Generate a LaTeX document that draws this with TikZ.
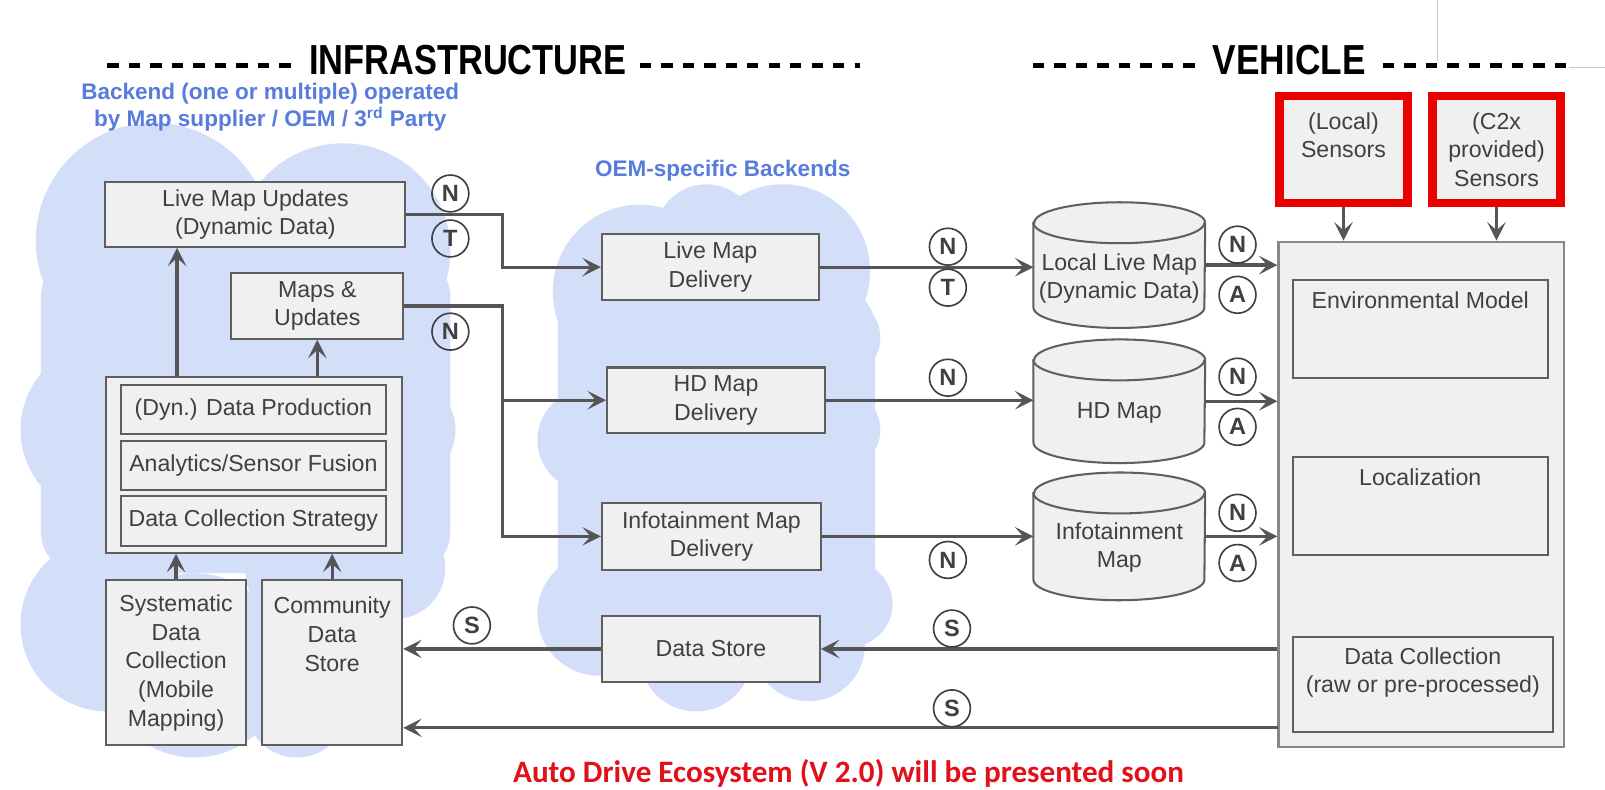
\documentclass[tikz,border=0pt]{standalone}
\usepackage{graphicx}
\usepackage{fontspec}
\setmainfont{Liberation Sans}
\newfontfamily\notefont{Carlito}
\usetikzlibrary{arrows.meta,positioning}

\definecolor{cloudblue}{RGB}{211,222,249}
\definecolor{boxfill}{RGB}{240,240,240}
\definecolor{boxline}{RGB}{95,95,95}
\definecolor{txtgrey}{RGB}{64,64,64}
\definecolor{linegrey}{RGB}{85,85,85}
\definecolor{titleblue}{RGB}{88,124,222}
\definecolor{alertred}{RGB}{226,16,24}
\definecolor{sensorred}{RGB}{235,0,0}

% cylinder body drawn round an empty node
\newcommand\dbshape[1]{%
  \path[db] ([yshift=-10pt]#1.north west) -- ([yshift=10pt]#1.south west)
    arc[start angle=180, end angle=360, x radius=41.75pt, y radius=10pt]
    -- ([yshift=-10pt]#1.north east)
    arc[start angle=0, end angle=180, x radius=41.75pt, y radius=10pt] -- cycle;
  \draw[db, fill=none] ([yshift=-10pt]#1.north west)
    arc[start angle=180, end angle=360, x radius=41.75pt, y radius=10pt];}

\begin{document}
\begin{tikzpicture}[x=0.5pt, y=-0.5pt,
  box/.style={draw=boxline, fill=boxfill, line width=1pt, inner sep=0pt, align=center,
    text=txtgrey, font=\fontsize{11.3}{14}\selectfont},
  bigbox/.style={box, draw=boxline!75},
  sensorbox/.style={box, draw=sensorred, line width=4pt},
  dbbody/.style={minimum width=83.5pt, inner sep=0pt},
  db/.style={fill=boxfill, draw=boxline, line width=1pt},
  dbtext/.style={align=center, text=txtgrey, font=\fontsize{11.3}{14}\selectfont, inner sep=0pt},
  tag/.style={circle, draw=txtgrey, line width=0.8pt, minimum size=18pt, inner sep=0pt,
    text=txtgrey, font=\fontsize{11.5}{12}\selectfont\bfseries},
  flow/.style={draw=linegrey, line width=1.6pt, -{Stealth[length=9pt, width=9pt, inset=4pt]}},
  header/.style={font=\fontsize{20.5}{22}\selectfont\bfseries, inner sep=0pt},
  hdash/.style={line width=2.5pt, dash pattern=on 5.5pt off 5pt},
  group/.style={text=titleblue, font=\fontsize{11}{13}\selectfont\bfseries, align=center, inner sep=0pt}]

  \fill[white] (0,0) rectangle (1568,771);
  \useasboundingbox (0,0) rectangle (1568,771);

  % clouds
  \foreach \cx/\cy/\r in {150/235/115, 335/245/105, 105/420/85, 105/610/85, 190/650/90,
      290/690/50, 395/420/50, 385/555/50,
      625/285/85, 765/265/85, 690/230/50, 575/430/50, 585/600/60, 680/640/55,
      790/630/55, 830/590/42, 820/420/40, 820/330/40}
    \fill[cloudblue] (\cx,\cy) circle[radius=\r];
  \fill[cloudblue, rounded corners=20pt] (40,250) rectangle (440,560);
  \fill[cloudblue, rounded corners=20pt] (240,450) rectangle (420,600);
  \fill[cloudblue, rounded corners=20pt] (545,280) rectangle (855,620);

  % headers
  \node[header] (infratitle) at (457,59) {\scalebox{0.82}[1]{INFRASTRUCTURE}};
  \draw[hdash] (105,64) -- (289,64);
  \draw[hdash] (625,64) -- (840,64);
  \node[header] (vehtitle) at (1259.5,59) {\scalebox{0.84}[1]{VEHICLE}};
  \draw[hdash] (1009,64) -- (1176,64);
  \draw[hdash] (1351,64) -- (1530,64);
  \draw[black!22, line width=0.5pt] (1404,0) -- (1404,60);
  \draw[black!22, line width=0.5pt] (1533,66) -- (1568,66);

  \node[group] (backend) at (264,105) {Backend (one or multiple) operated\\by Map supplier / OEM / 3\textsuperscript{rd} Party};
  \node[group] (oemtitle) at (706,167) {OEM-specific Backends};

  % infrastructure backend
  \node[box, minimum width=146.5pt, minimum height=31.5pt] (liveupd) at (249.5,209.5) {Live Map Updates\\(Dynamic Data)};
  \node[box, minimum width=84pt, minimum height=32pt] (mapsupd) at (310,299) {Maps \&\\Updates};
  \node[box, minimum width=144.5pt, minimum height=86pt] (prod) at (248.5,454) {};
  \node[box, minimum width=129.5pt, minimum height=24pt] (dynprod) at (247.5,400) {(Dyn.) Data Production};
  \node[box, minimum width=129.5pt, minimum height=24pt] (fusion) at (247.5,455) {Analytics/Sensor Fusion};
  \node[box, minimum width=129.5pt, minimum height=24pt] (strategy) at (247.5,509) {Data Collection Strategy};
  \node[box, minimum width=68pt, minimum height=80.5pt] (sysdc) at (172,647.5) {Systematic\\Data\\Collection\\(Mobile\\Mapping)};
  \node[box, minimum width=68.5pt, minimum height=80.5pt] (comstore) at (324.5,647.5) {Community\\Data\\Store\\\mbox{}\\\mbox{}};

  % OEM backends
  \node[box, minimum width=106pt, minimum height=32pt] (livedel) at (694,261) {Live Map\\Delivery};
  \node[box, minimum width=106.5pt, minimum height=32pt] (hddel) at (699.5,391) {HD Map\\Delivery};
  \node[box, minimum width=107pt, minimum height=32.5pt] (infodel) at (695,524) {Infotainment Map\\Delivery};
  \node[box, minimum width=106.5pt, minimum height=32pt] (store) at (694.5,634) {Data Store};

  % vehicle maps
  \node[dbbody, minimum height=61pt] (livedb) at (1093.5,259) {};
  \node[dbbody, minimum height=60pt] (hddb) at (1093.5,392) {};
  \node[dbbody, minimum height=62pt] (infodb) at (1093.5,524) {};
  \foreach \db in {livedb,hddb,infodb} {\dbshape{\db}}
  \node[dbtext] (livedbtxt) at (1093.5,272) {Local Live Map\\(Dynamic Data)};
  \node[dbtext] (hddbtxt) at (1093.5,403) {HD Map};
  \node[dbtext] (infodbtxt) at (1093.5,535) {Infotainment\\Map};

  % vehicle
  \node[bigbox, minimum width=139.5pt, minimum height=247pt] (vehicle) at (1388.5,483) {};
  \node[box, minimum width=124.5pt, minimum height=47.5pt] (envmodel) at (1387.5,321.5) {Environmental Model\\\mbox{}\\\mbox{}};
  \node[box, minimum width=124.5pt, minimum height=48pt] (localize) at (1387.5,494) {Localization\\\mbox{}\\\mbox{}};
  \node[box, minimum width=127pt, minimum height=46.5pt] (datacoll) at (1390,668.5) {Data Collection\\(raw or pre-processed)\\\mbox{}};
  \node[sensorbox, minimum width=62.5pt, minimum height=52pt] (locsens) at (1312.5,146) {(Local)\\Sensors\\\mbox{}};
  \node[sensorbox, minimum width=62.5pt, minimum height=52pt] (c2xsens) at (1462,146) {(C2x\\provided)\\Sensors};

  % connectors
  \coordinate (split) at (491,0);
  \coordinate (upL) at (173,0);
  \coordinate (dcout) at (1249,711);
  \draw[flow] (upL |- prod.north) -- (upL |- liveupd.south);
  \draw[flow] (prod.north -| mapsupd.south) -- (mapsupd.south);
  \draw[flow] (sysdc.north) -- (sysdc.north |- prod.south);
  \draw[flow] (comstore.north) -- (comstore.north |- prod.south);
  \draw[flow] (liveupd.east) -- (liveupd.east -| split) |- (livedel.west);
  \draw[flow] (mapsupd.east) -- (mapsupd.east -| split) |- (infodel.west);
  \draw[flow] (split |- hddel.west) -- (hddel.west);
  \draw[flow] (livedel.east) -- (livedel.east -| livedb.west);
  \draw[flow] (hddel.east) -- (hddel.east -| hddb.west);
  \draw[flow] (infodel.east) -- (infodel.east -| infodb.west);
  \draw[flow] (livedb.east) -- (livedb.east -| vehicle.west);
  \draw[flow] (hddb.east) -- (hddb.east -| vehicle.west);
  \draw[flow] (infodb.east) -- (infodb.east -| vehicle.west);
  \draw[flow] (locsens.south) -- (locsens.south |- vehicle.north);
  \draw[flow] (c2xsens.south) -- (c2xsens.south |- vehicle.north);
  \draw[flow] (vehicle.west |- store.east) -- (store.east);
  \draw[flow] (store.west) -- (store.west -| comstore.east);
  \draw[flow] (dcout) -- (dcout -| comstore.east);

  % channel tags
  \node[tag] (tN1) at (440,189) {N};
  \node[tag] (tT1) at (440,233) {T};
  \node[tag] (tN2) at (440,324) {N};
  \node[tag] (dN1) at (926,241) {N};
  \node[tag] (dT1) at (926,281) {T};
  \node[tag] (dN2) at (926,369) {N};
  \node[tag] (dN3) at (926,547) {N};
  \node[tag] (vN1) at (1209,239) {N};
  \node[tag] (vA1) at (1209,288) {A};
  \node[tag] (vN2) at (1209,368) {N};
  \node[tag] (vA2) at (1209,417) {A};
  \node[tag] (vN3) at (1209,501) {N};
  \node[tag] (vA3) at (1209,550) {A};
  \node[tag] (sS1) at (461,611) {S};
  \node[tag] (sS2) at (930,614) {S};
  \node[tag] (sS3) at (930,692) {S};

  \node[anchor=base, inner sep=0pt, text=alertred,
    font=\notefont\fontsize{15.2}{16}\selectfont\bfseries] (note) at (829,764)
    {Auto Drive Ecosystem (V 2.0) will be presented soon};
\end{tikzpicture}
\end{document}
